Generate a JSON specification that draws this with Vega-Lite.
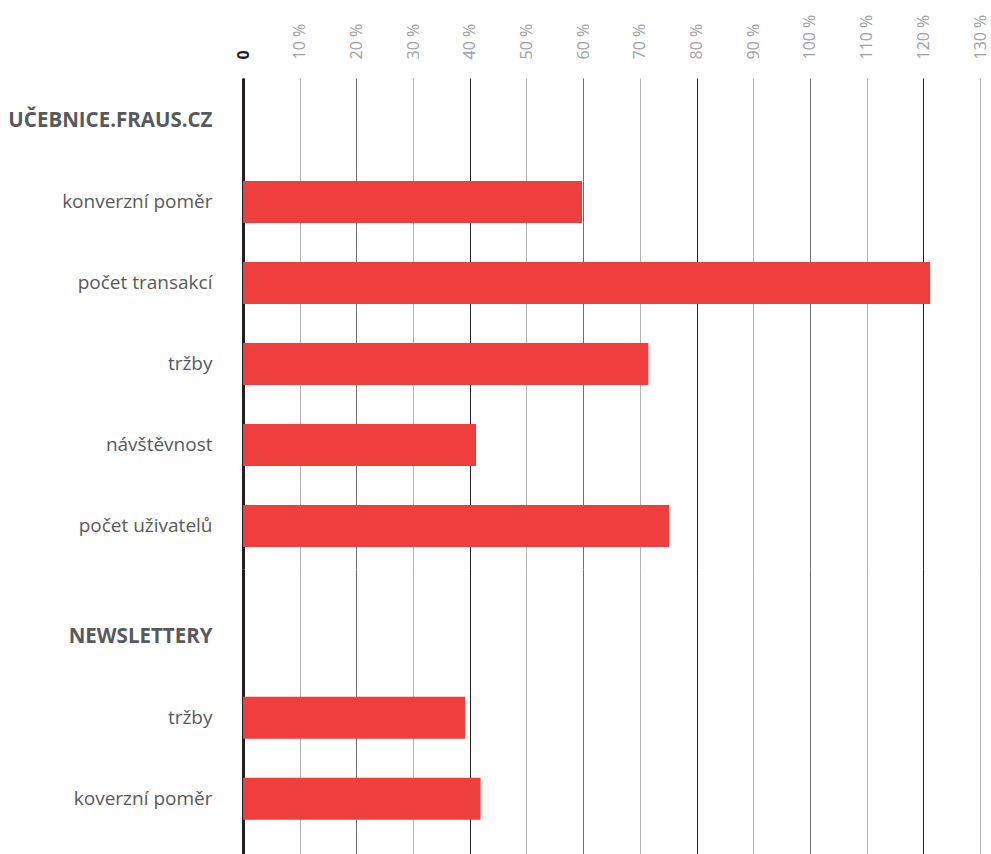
{
  "$schema": "https://vega.github.io/schema/vega-lite/v6.json",
  "padding": {"left": 7, "top": 14, "right": 5, "bottom": 0},
  "background": "white",
  "spacing": 0,
  "datasets": {
    "rows": [
      {"group": "učebnice", "label": "UČEBNICE.FRAUS.CZ", "value": null},
      {"group": "učebnice", "label": "konverzní poměr", "value": 59.8},
      {"group": "učebnice", "label": "počet transakcí", "value": 121.2},
      {"group": "učebnice", "label": "tržby", "value": 71.5},
      {"group": "učebnice", "label": "návštěvnost", "value": 41.1},
      {"group": "učebnice", "label": "počet uživatelů", "value": 75.2},
      {"group": "newslettery", "label": "NEWSLETTERY", "value": null},
      {"group": "newslettery", "label": "tržby", "value": 39.2},
      {"group": "newslettery", "label": "koverzní poměr", "value": 41.9}
    ]
  },
  "config": {
    "view": {"stroke": null},
    "font": "Open Sans",
    "axisY": {
      "title": null,
      "ticks": false,
      "grid": false,
      "domain": true,
      "domainColor": "#231f20",
      "domainWidth": 3,
      "labelPadding": 31,
      "labelColor": "#58595b",
      "labelFont": "Open Sans",
      "labelLimit": 400,
      "labelFontSize": {"condition": {"test": "upper(datum.value) == datum.value", "value": 20.5}, "value": 19},
      "labelFontWeight": {"condition": {"test": "upper(datum.value) == datum.value", "value": "bold"}, "value": "normal"},
      "zindex": 1
    },
    "axisX": {
      "title": null,
      "ticks": false,
      "domain": false,
      "grid": true,
      "gridWidth": 1,
      "gridColor": {"condition": [{"test": "datum.value % 40 == 0", "value": "#231f20"}, {"test": "datum.value % 20 == 0", "value": "#6d6e71"}], "value": "#b3b3b3"},
      "zindex": 0
    }
  },
  "vconcat": [
    {
      "data": {"name": "rows"},
      "transform": [{"filter": "datum.group == 'učebnice'"}],
      "width": 737,
      "height": 491,
      "mark": {"type": "bar", "color": "#ef3e3e"},
      "encoding": {
        "x": {
          "field": "value",
          "type": "quantitative",
          "scale": {"domain": [0, 130], "nice": false, "zero": true},
          "axis": {
            "orient": "top",
            "values": [0, 10, 20, 30, 40, 50, 60, 70, 80, 90, 100, 110, 120, 130],
            "labelAngle": -90,
            "labelExpr": "datum.value == 0 ? '0' : datum.value + ' %'",
            "labelFont": "Open Sans",
            "labelFontSize": 16,
            "labelPadding": 19,
            "labelFlush": false,
            "labelOverlap": false,
            "labelColor": {"condition": {"test": "datum.value == 0", "value": "#231f20"}, "value": "#a0a0a3"},
            "labelFontWeight": {"condition": {"test": "datum.value == 0", "value": "bold"}, "value": "normal"}
          }
        },
        "y": {
          "field": "label",
          "type": "nominal",
          "sort": null,
          "scale": {
            "domain": ["UČEBNICE.FRAUS.CZ", "konverzní poměr", "počet transakcí", "tržby", "návštěvnost", "počet uživatelů"],
            "paddingInner": 0.48,
            "paddingOuter": 0.27
          },
          "axis": {}
        }
      }
    },
    {
      "data": {"name": "rows"},
      "transform": [{"filter": "datum.group == 'newslettery'"}],
      "width": 737,
      "height": 286,
      "mark": {"type": "bar", "color": "#ef3e3e"},
      "encoding": {
        "x": {
          "field": "value",
          "type": "quantitative",
          "scale": {"domain": [0, 130], "nice": false, "zero": true},
          "axis": {
            "orient": "top",
            "values": [0, 10, 20, 30, 40, 50, 60, 70, 80, 90, 100, 110, 120, 130],
            "labels": false,
            "minExtent": 0,
            "maxExtent": 0
          }
        },
        "y": {
          "field": "label",
          "type": "nominal",
          "sort": null,
          "scale": {
            "domain": ["NEWSLETTERY", "tržby", "koverzní poměr"],
            "paddingInner": 0.48,
            "paddingOuter": 0.505,
            "align": 0.57
          },
          "axis": {}
        }
      }
    }
  ]
}
